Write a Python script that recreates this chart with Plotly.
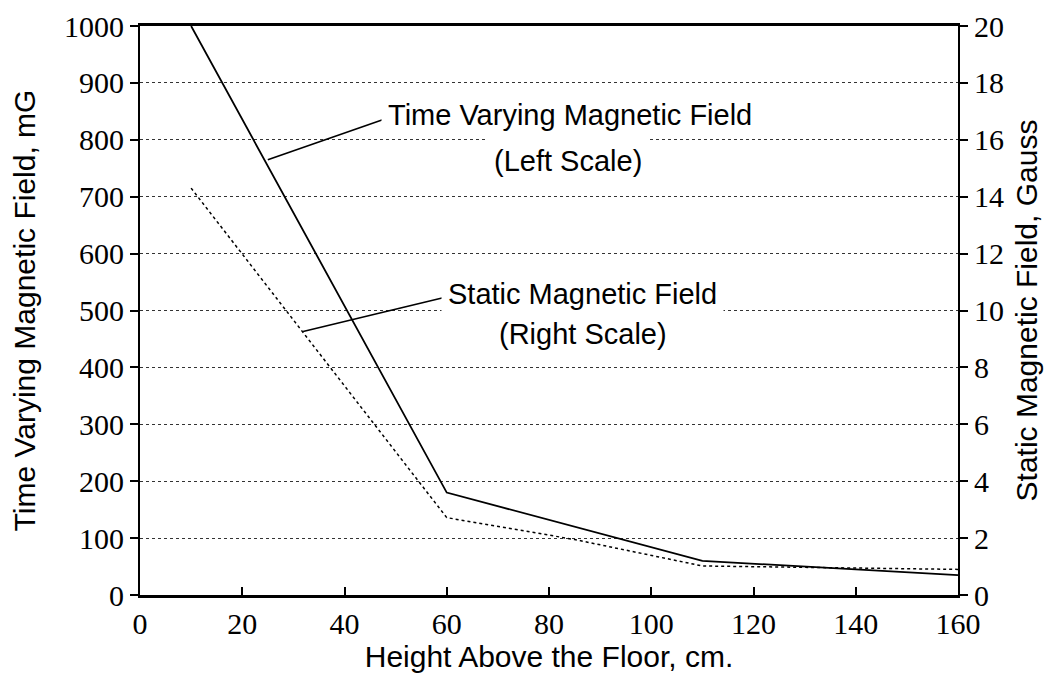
import plotly.graph_objects as go

# Height above the floor, cm
height_cm = [10, 60, 110, 160]
# Time varying field (left scale), mG
time_varying_mg = [1000, 180, 60, 35]
# Static field (right scale), Gauss
static_height_cm = [10, 60, 85, 110, 160]
static_gauss = [14.3, 2.72, 1.95, 1.02, 0.9]

x_ticks = [0, 20, 40, 60, 80, 100, 120, 140, 160]
left_ticks = list(range(0, 1001, 100))
right_ticks = list(range(0, 21, 2))

serif = "Liberation Serif"
sans = "Liberation Sans"
tick_font = dict(family=serif, size=30, color="black")
title_font = dict(family=sans, size=30, color="black")
label_font = dict(family=sans, size=29, color="black")

fig = go.Figure()
fig.add_trace(go.Scatter(
    x=height_cm, y=time_varying_mg, mode="lines",
    line=dict(color="black", width=1.8), showlegend=False,
))
fig.add_trace(go.Scatter(
    x=static_height_cm, y=static_gauss, mode="lines", yaxis="y2",
    line=dict(color="black", width=1.5, dash="dot"), showlegend=False,
))

# leader lines for the labels
fig.add_shape(type="line", x0=25, y0=765, x1=48.3, y1=838,
              line=dict(color="black", width=1.6))
fig.add_shape(type="line", x0=31.9, y0=463, x1=60.1, y1=524,
              line=dict(color="black", width=1.6))

# labels, one annotation per line; white boxes break the gridlines like the original
labels = [
    ("Time Varying Magnetic Field", 84.1, 844),
    ("(Left Scale)", 83.8, 763),
    ("Static Magnetic Field", 86.5, 529),
    ("(Right Scale)", 86.6, 458),
]
for text, lx, ly in labels:
    fig.add_annotation(x=lx, y=ly, text=text, showarrow=False,
                       bgcolor="white", borderpad=6, font=label_font)

# the page body adds an 8px offset, margins allow for it
fig.update_layout(
    width=1059, height=681,
    margin=dict(l=132, r=109, t=18, b=94),
    plot_bgcolor="white", paper_bgcolor="white",
    xaxis=dict(
        range=[0, 160], tickvals=x_ticks, ticks="inside", ticklen=8,
        tickcolor="black", tickwidth=1.5, showgrid=False, zeroline=False,
        showline=True, linecolor="black", linewidth=2.5, mirror=True,
        tickfont=tick_font, automargin=False,
        title=dict(text="Height Above the Floor, cm.", standoff=4, font=title_font),
    ),
    yaxis=dict(
        range=[0, 1000], tickvals=left_ticks, ticks="outside", ticklen=8,
        tickcolor="black", tickwidth=1.5, showgrid=True, gridcolor="#333",
        griddash="dot", gridwidth=1, zeroline=False, showline=True,
        linecolor="black", linewidth=2, tickfont=tick_font, automargin=False,
        title=dict(text="Time Varying Magnetic Field, mG", standoff=34, font=title_font),
    ),
    yaxis2=dict(
        range=[0, 20], tickvals=right_ticks, ticks="outside", ticklen=8,
        tickcolor="black", tickwidth=1.5, overlaying="y", side="right",
        showgrid=False, zeroline=False, showline=True, linecolor="black",
        linewidth=2, tickfont=tick_font, automargin=False,
        title=dict(text="Static Magnetic Field, Gauss", standoff=13, font=title_font),
    ),
)

fig.write_html("out.html")
